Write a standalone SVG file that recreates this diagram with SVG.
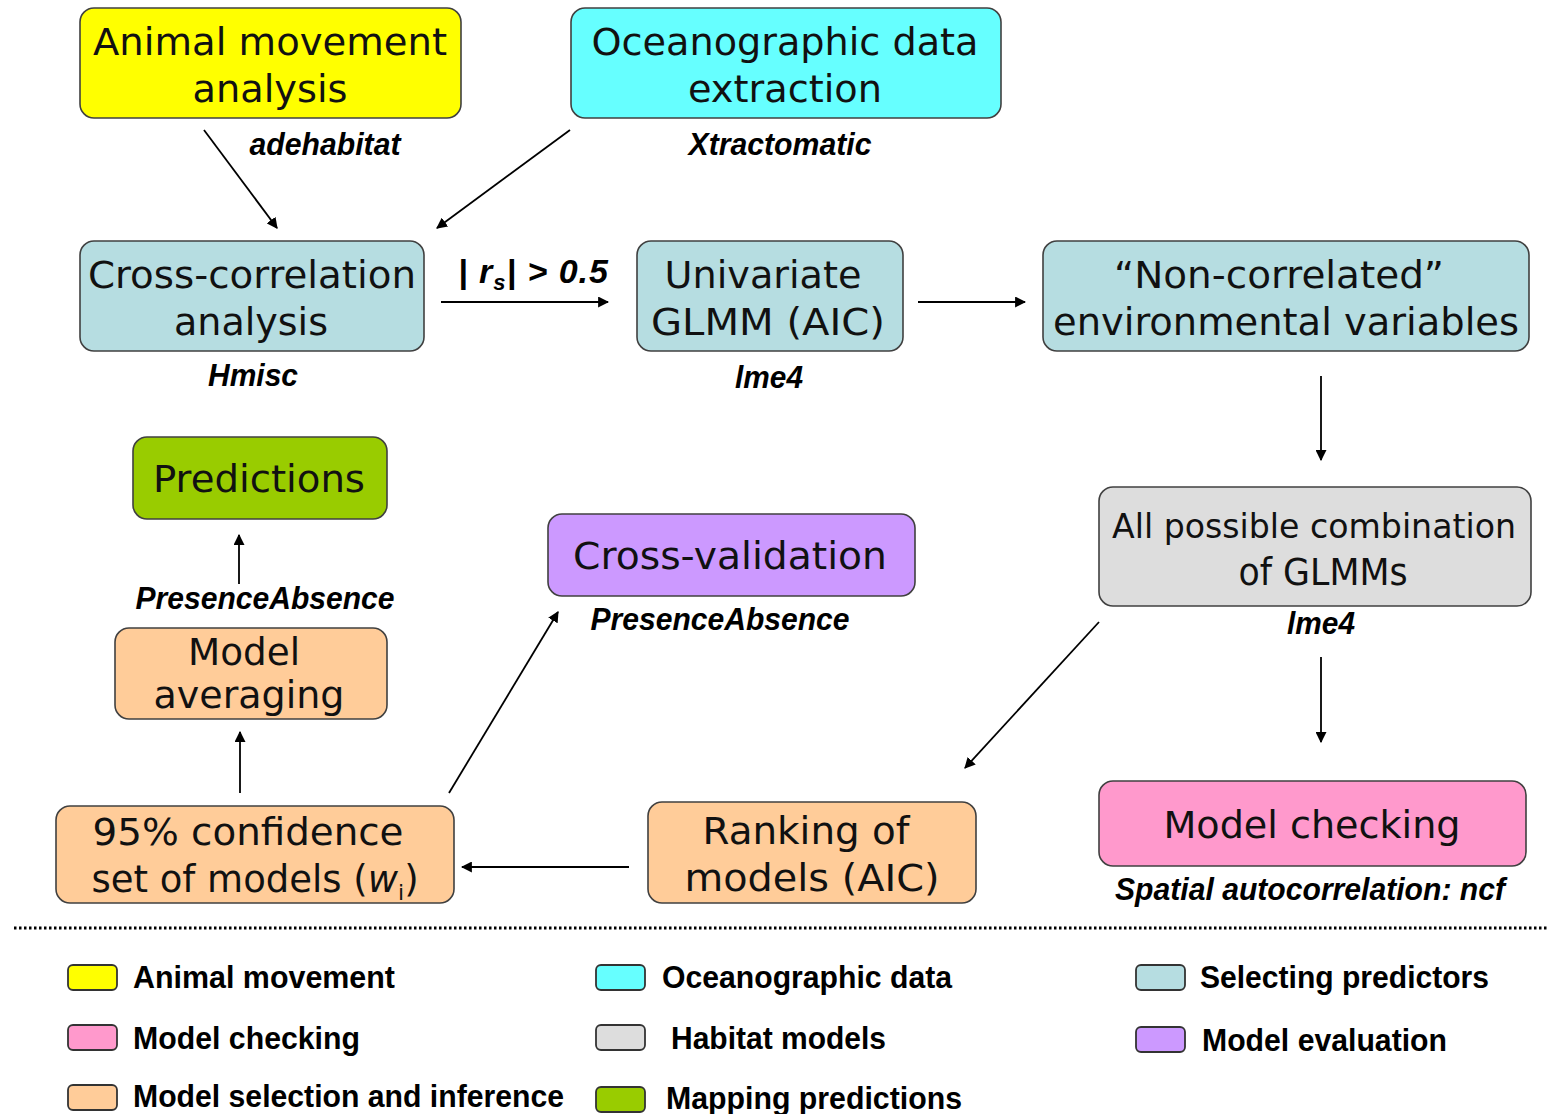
<svg xmlns="http://www.w3.org/2000/svg" width="1548" height="1114" viewBox="0 0 1548 1114">
<defs>
<marker id="ah" viewBox="0 0 10 10" refX="9" refY="5" markerWidth="11" markerHeight="11" markerUnits="userSpaceOnUse" orient="auto">
<path d="M0,0 L10,5 L0,10 z" fill="#000"/>
</marker>
<style>
.box{stroke:#404040;stroke-width:1.6}
.t{font-family:"DejaVu Sans",Verdana,sans-serif;font-size:37px;fill:#111;text-anchor:middle}
.lab{font-family:"Liberation Sans",Arial,sans-serif;font-size:31px;font-weight:bold;font-style:italic;fill:#000;text-anchor:middle}
.leg{font-family:"Liberation Sans",Arial,sans-serif;font-size:32px;font-weight:bold;fill:#000}
.conn line{stroke:#000;stroke-width:1.8;marker-end:url(#ah)}
.sw{stroke:#333;stroke-width:1.8}
</style>
</defs>
<rect width="1548" height="1114" fill="#fff"/>

<g id="animal">
<rect class="box" x="80" y="8" width="381" height="110" rx="14" fill="#ffff00"/>
<text class="t" x="270" y="55" textLength="354" lengthAdjust="spacingAndGlyphs">Animal movement</text>
<text class="t" x="270" y="102" textLength="155" lengthAdjust="spacingAndGlyphs">analysis</text>
</g>
<g id="ocean">
<rect class="box" x="571" y="8" width="430" height="110" rx="14" fill="#66ffff"/>
<text class="t" x="785" y="55" textLength="387" lengthAdjust="spacingAndGlyphs">Oceanographic data</text>
<text class="t" x="785" y="102" textLength="194" lengthAdjust="spacingAndGlyphs">extraction</text>
</g>
<g id="crosscorr">
<rect class="box" x="80" y="241" width="344" height="110" rx="14" fill="#b6dde1"/>
<text class="t" x="252" y="288" textLength="328" lengthAdjust="spacingAndGlyphs">Cross-correlation</text>
<text class="t" x="251" y="335" textLength="154" lengthAdjust="spacingAndGlyphs">analysis</text>
</g>
<g id="univariate">
<rect class="box" x="637" y="241" width="266" height="110" rx="14" fill="#b6dde1"/>
<text class="t" x="763" y="288" textLength="197" lengthAdjust="spacingAndGlyphs">Univariate</text>
<text class="t" x="768" y="335" textLength="234" lengthAdjust="spacingAndGlyphs">GLMM (AIC)</text>
</g>
<g id="noncorr">
<rect class="box" x="1043" y="241" width="486" height="110" rx="14" fill="#b6dde1"/>
<text class="t" x="1279" y="288" textLength="330" lengthAdjust="spacingAndGlyphs">“Non-correlated”</text>
<text class="t" x="1286" y="335" textLength="466" lengthAdjust="spacingAndGlyphs">environmental variables</text>
</g>
<g id="predictions">
<rect class="box" x="133" y="437" width="254" height="82" rx="14" fill="#99cc00"/>
<text class="t" x="259" y="492" textLength="212" lengthAdjust="spacingAndGlyphs">Predictions</text>
</g>
<g id="crossval">
<rect class="box" x="548" y="514" width="367" height="82" rx="14" fill="#cc99ff"/>
<text class="t" x="730" y="569" textLength="314" lengthAdjust="spacingAndGlyphs">Cross-validation</text>
</g>
<g id="allcomb">
<rect class="box" x="1099" y="487" width="432" height="119" rx="14" fill="#dddddd"/>
<text class="t" x="1314" y="538" style="font-size:33.5px" textLength="404" lengthAdjust="spacingAndGlyphs">All possible combination</text>
<text class="t" x="1323" y="585" textLength="169" lengthAdjust="spacingAndGlyphs">of GLMMs</text>
</g>
<g id="averaging">
<rect class="box" x="115" y="628" width="272" height="91" rx="14" fill="#ffcc99"/>
<text class="t" x="244" y="665" textLength="112" lengthAdjust="spacingAndGlyphs">Model</text>
<text class="t" x="249" y="708" textLength="191" lengthAdjust="spacingAndGlyphs">averaging</text>
</g>
<g id="confidence">
<rect class="box" x="56" y="806" width="398" height="97" rx="14" fill="#ffcc99"/>
<text class="t" x="248" y="845" textLength="311" lengthAdjust="spacingAndGlyphs">95% confidence</text>
<text class="t" x="255" y="892">set of models (<tspan font-style="italic">w</tspan><tspan font-size="22" dy="8">i</tspan><tspan dy="-8">)</tspan></text>
</g>
<g id="ranking">
<rect class="box" x="648" y="802" width="328" height="101" rx="14" fill="#ffcc99"/>
<text class="t" x="806" y="844" textLength="207" lengthAdjust="spacingAndGlyphs">Ranking of</text>
<text class="t" x="812" y="891" textLength="255" lengthAdjust="spacingAndGlyphs">models (AIC)</text>
</g>
<g id="checking">
<rect class="box" x="1099" y="781" width="427" height="85" rx="14" fill="#ff99cc"/>
<text class="t" x="1312" y="838" textLength="297" lengthAdjust="spacingAndGlyphs">Model checking</text>
</g>

<g id="labels">
<text class="lab" x="325" y="155" textLength="151" lengthAdjust="spacingAndGlyphs">adehabitat</text>
<text class="lab" x="780" y="155" textLength="183" lengthAdjust="spacingAndGlyphs">Xtractomatic</text>
<text class="lab" x="253" y="386" textLength="90" lengthAdjust="spacingAndGlyphs">Hmisc</text>
<text class="lab" x="769" y="388" textLength="68" lengthAdjust="spacingAndGlyphs">lme4</text>
<text class="lab" x="265" y="609" textLength="259" lengthAdjust="spacingAndGlyphs">PresenceAbsence</text>
<text class="lab" x="720" y="630" textLength="259" lengthAdjust="spacingAndGlyphs">PresenceAbsence</text>
<text class="lab" x="1321" y="634" textLength="68" lengthAdjust="spacingAndGlyphs">lme4</text>
<text class="lab" x="1310" y="900" textLength="390" lengthAdjust="spacingAndGlyphs">Spatial autocorrelation: ncf</text>
<text class="lab" x="458" y="283" style="text-anchor:start;font-size:34px;letter-spacing:1px">| <tspan>r</tspan><tspan font-size="22" dy="7">s</tspan><tspan dy="-7">| &gt; 0.5</tspan></text>
</g>

<g id="connectors" class="conn">
<line x1="204" y1="130" x2="277" y2="228"/>
<line x1="570" y1="130" x2="437" y2="228"/>
<line x1="441" y1="302" x2="608" y2="302"/>
<line x1="918" y1="302" x2="1025" y2="302"/>
<line x1="1321" y1="376" x2="1321" y2="460"/>
<line x1="1099" y1="622" x2="965" y2="768"/>
<line x1="1321" y1="657" x2="1321" y2="742"/>
<line x1="629" y1="867" x2="462" y2="867"/>
<line x1="449" y1="793" x2="558" y2="612"/>
<line x1="240" y1="793" x2="240" y2="732"/>
<line x1="239" y1="584" x2="239" y2="535"/>
</g>

<line x1="14" y1="928" x2="1548" y2="928" stroke="#000" stroke-width="3" stroke-dasharray="2.5 2.5"/>

<g id="legend">
<rect class="sw" x="68" y="965" width="49" height="25" rx="5" fill="#ffff00"/>
<text class="leg" x="133" y="988" textLength="262" lengthAdjust="spacingAndGlyphs">Animal movement</text>
<rect class="sw" x="596" y="965" width="49" height="25" rx="5" fill="#66ffff"/>
<text class="leg" x="662" y="988" textLength="290" lengthAdjust="spacingAndGlyphs">Oceanographic data</text>
<rect class="sw" x="1136" y="965" width="49" height="25" rx="5" fill="#b6dde1"/>
<text class="leg" x="1200" y="988" textLength="289" lengthAdjust="spacingAndGlyphs">Selecting predictors</text>
<rect class="sw" x="68" y="1025" width="49" height="25" rx="5" fill="#ff99cc"/>
<text class="leg" x="133" y="1049" textLength="227" lengthAdjust="spacingAndGlyphs">Model checking</text>
<rect class="sw" x="596" y="1025" width="49" height="25" rx="5" fill="#dddddd"/>
<text class="leg" x="671" y="1049" textLength="215" lengthAdjust="spacingAndGlyphs">Habitat models</text>
<rect class="sw" x="1136" y="1027" width="49" height="25" rx="5" fill="#cc99ff"/>
<text class="leg" x="1202" y="1051" textLength="245" lengthAdjust="spacingAndGlyphs">Model evaluation</text>
<rect class="sw" x="68" y="1085" width="49" height="25" rx="5" fill="#ffcc99"/>
<text class="leg" x="133" y="1107" textLength="431" lengthAdjust="spacingAndGlyphs">Model selection and inference</text>
<rect class="sw" x="596" y="1087" width="49" height="25" rx="5" fill="#99cc00"/>
<text class="leg" x="666" y="1109" textLength="296" lengthAdjust="spacingAndGlyphs">Mapping predictions</text>
</g>
</svg>
